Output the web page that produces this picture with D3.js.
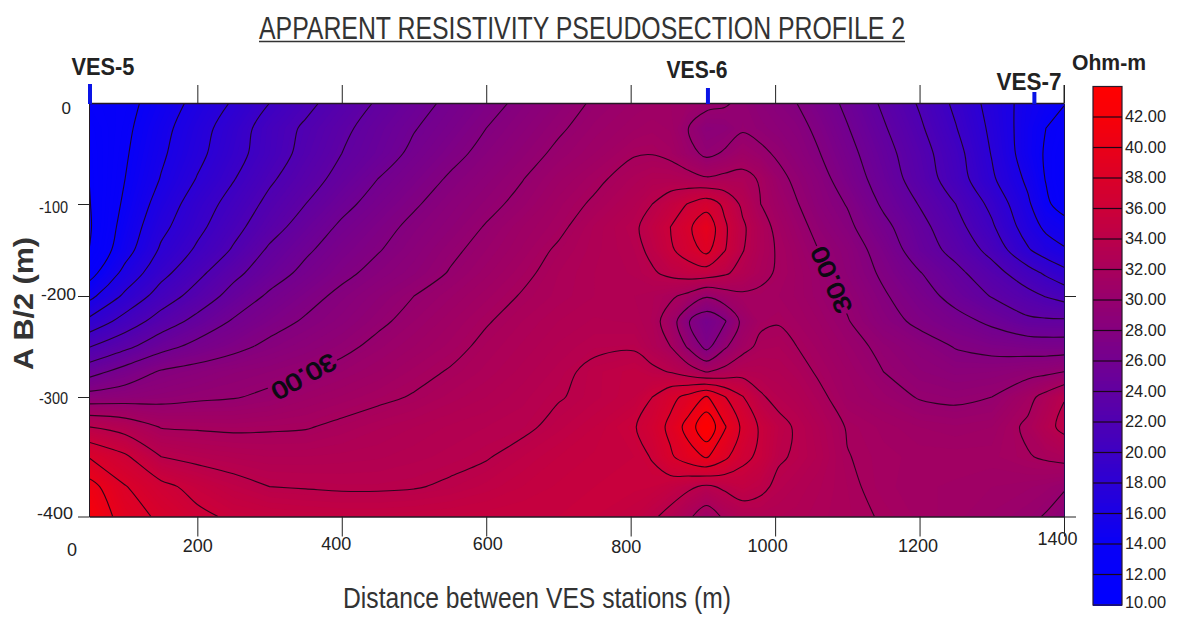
<!DOCTYPE html>
<html>
<head>
<meta charset="utf-8">
<script src="https://cdn.jsdelivr.net/npm/d3@7/dist/d3.min.js"></script>
<style>
html,body{margin:0;padding:0;background:#fff;}
svg{display:block;}
text{font-family:"Liberation Sans",Arial,sans-serif;fill:#222;}
</style>
</head>
<body>
<svg id="chart" width="1181" height="617"></svg>
<script>
// ---- data ----
const titleText = "APPARENT RESISTIVITY PSEUDOSECTION PROFILE 2";
const xTitle = "Distance between VES stations (m)";
const yTitle = "A B/2 (m)";
const unitLabel = "Ohm-m";
const xTicks = [200,400,600,800,1000,1200,1400];
const yTicks = [0,-100,-200,-300,-400];
const legendTicks = [42,40,38,36,34,32,30,28,26,24,22,20,18,16,14,12,10];
const stations = [{name:"VES-5",x:50},{name:"VES-6",x:907},{name:"VES-7",x:1359}];
const distances = [50,100,150,200,250,300,350,400,450,500,550,600,650,700,750,805,830,855,880,905,930,955,980,1005,1030,1060,1100,1150,1200,1250,1300,1350,1375,1400];
const depths = [0,-25,-50,-75,-100,-125,-150,-175,-200,-225,-250,-275,-300,-325,-350,-375,-400];
const d000 = [12.8,13.4,14.9,16.6,18.2,20.0,21.5,22.9,24.2,25.3,26.4,27.4,28.4,29.3,30.2,30.8,31,31,30.8,30.5,30.2,29.6,29,28.5,28,27,25.6,23.7,21.8,19.6,17.3,15.2,14.6,14.1];
const d025 = [12.3,13.6,15.4,17.2,19.0,20.9,22.3,23.6,24.8,25.9,26.9,28,28.9,29.8,30.6,31.2,31.4,31.2,30,28.9,29.1,29.8,29.4,29,28.6,27.6,26.1,24.2,22.3,20.1,17.6,15,14,13.2];
const d050 = [12.1,13.8,15.7,17.5,19.3,21,22.6,24,25.1,26.4,27.5,28.5,29.4,30.3,31,31.9,31.95,31.6,30.6,29.6,30.2,31,30.4,29.7,29,28.1,26.6,24.7,22.8,20.7,17.9,15,13.8,12.8];
const d075 = [12,14,16.1,18.1,19.9,21.7,23.2,24.6,26,27.1,28.2,29.1,29.95,30.9,31.7,32.6,33,33,32.7,32.2,32.5,32.6,31.8,30.5,29.6,28.7,27.1,25.1,23.1,21,18.3,15.6,13.9,12.7];
const d100 = [11.9,14.3,16.8,19,20.7,22.5,24,25.5,26.7,27.8,28.8,29.6,30.4,31.4,32.2,33.2,34,35,36.1,37.1,35.6,33.6,32,31,30.1,29,27.9,25.7,23.9,22,19.5,16.3,14.4,13];
const d125 = [11.8,14.7,17.5,19.5,21.4,23.2,24.9,26.3,27.4,28.4,29.2,30.1,31,31.7,32.8,33.7,34.8,36,37.6,39.6,36.3,34.3,32.7,31.5,30.6,29.5,28.4,26.5,24.6,22.7,20.3,17,15.6,15];
const d150 = [12,15.2,18.3,20.3,22.2,24.3,25.7,27,27.9,28.8,29.7,30.5,31.3,32.2,32.9,33.5,34.4,35.7,37,38.6,36.1,34.1,32.7,31.8,31,30,29,27.2,25,23.4,21.4,18.2,17,16.2];
const d175 = [13.2,16.6,19.4,21.5,23.5,25.1,26.5,27.6,28.5,29.2,30.1,30.9,31.7,32.5,33,33.3,33.8,34.4,34.9,35,34.3,33.3,32.4,31.8,31.2,30.5,29.2,27.7,26.1,24.5,22.8,20.8,19.7,18.6];
const d200 = [15.4,18.4,20.9,22.8,24.7,26.3,27.4,28.4,29.2,30,30.7,31.4,32.1,32.6,33,33,32.8,32.3,31.5,30.2,31.1,31.7,31.7,31.5,31.2,30.6,29.7,28.2,26.9,25.3,23.9,22.6,21.9,21.3];
const d225 = [18.5,20.8,22.9,24.6,26.2,27.3,28.2,28.9,29.7,30.5,31.2,31.9,32.5,33,33.3,33.2,32.7,31.1,28.1,26.6,27.8,30.5,31.7,31.9,31.5,31,30.1,28.7,27.6,26.7,25.6,24.4,24.3,24.3];
const d250 = [21.9,23.5,25.3,26.6,27.5,28.4,29,29.6,30.4,31,31.6,32.3,32.8,33.3,33.7,33.8,33,32,29.7,27.4,29.7,31.4,32.4,32.5,32,31.4,30.6,29.6,28.8,27.9,27.4,27.1,27,27];
const d275 = [25.2,26.8,28.2,28.7,29.2,29.5,29.9,30.5,31,31.6,32.1,32.6,33.1,33.6,34.4,34.9,34.4,33.9,33,31.9,32.6,33.3,33.2,33,32.6,31.8,31,30,29.3,28.9,29,29.4,29.6,30];
const d300 = [28.8,29.1,29.4,29.7,29.9,30.3,30.9,31.3,31.7,32.1,32.6,33,33.4,33.9,34.4,35,36,37.4,38.6,40.2,38.1,36.1,34.2,33.5,33.1,32.4,31.2,30.6,29.9,29.7,30,31.5,32.6,33.9];
const d325 = [34,33.2,31.9,31.8,31.7,31.8,31.9,32.3,32.7,33,33.3,33.5,33.7,34.4,35,35.9,36.8,38.5,40.8,43.8,40.2,37.6,35.7,34.5,33.8,33,31.9,31.4,31,30.8,31,32.3,33.4,34.5];
const d350 = [37.9,36.3,34,33.5,33.2,33,33,33.1,33.2,33.4,33.6,33.9,34.5,35,35.3,35.5,36.1,37.7,39.1,40.2,38.5,36.5,35.6,34.2,33.8,33.2,32.05,31.6,31.4,31.4,31.4,31.9,32.2,32.5];
const d375 = [40.8,38.1,36.5,35.4,34.6,34,33.9,33.8,33.8,33.9,34.2,34.6,35,35.3,35.5,35.6,35.5,35,34.3,33.7,34.3,34.9,34.4,33.6,33.2,32.8,32.25,31.6,31.3,31.2,31,30.8,30.6,30.2];
const d400 = [41.9,39,37.6,36.4,35.7,35.4,35.2,35.1,35.1,35.2,35.3,35.4,35.5,35.5,35.5,35,34.3,33.4,32.3,31,32.3,33,33.1,33,32.9,32.6,32.3,31.9,31.4,31.1,30.7,30.3,29.9,29];
const contourLevels = [12,14,16,18,20,22,24,26,28,30,32,34,36,38,40,42];
const contourLabels = ["30.00","30.00"];

// ---- layout ----
const W = 1181, H = 617;
const L = 89, R = 1064, T = 103, B = 516.5;
const svg = d3.select("#chart");

const x = d3.scaleLinear().domain([50,1400]).range([L,R]);
const y = d3.scaleLinear().domain([0,-100,-200,-300,-400]).range([T,204,296,397,B]);
const color = d3.scaleLinear()
  .domain([10,14,30,36,42,44])
  .range(["#0000ff","#0800f7","#96006e","#cc0038","#f80008","#ff0000"])
  .clamp(true);

// ---- field ----
const rows = [d000,d025,d050,d075,d100,d125,d150,d175,d200,d225,d250,d275,d300,d325,d350,d375,d400];
const nx = distances.length, ny = depths.length;
const grid = rows.flat();
// grid index -> data position (columns and rows are unevenly spaced)
const ix = d3.scaleLinear().domain(d3.range(nx)).range(distances);
const iy = d3.scaleLinear().domain(d3.range(ny)).range(depths);
const px = u => x(ix(Math.max(0,Math.min(nx-1,u-0.5))));
const py = v => y(iy(Math.max(0,Math.min(ny-1,v-0.5))));
const geo = d3.geoPath(d3.geoTransform({point(a,b){this.stream.point(px(a),py(b));}}));
const contours = d3.contours().size([nx,ny]);

const defs = svg.append("defs");
defs.append("clipPath").attr("id","plot").append("rect")
  .attr("x",L).attr("y",T).attr("width",R-L).attr("height",B-T);

// label placement: centre and angle of the two upside-down labels
const labelSpots = [{cx:304,cy:377,a:151},{cx:831,cy:280,a:247}];
const lineMask = defs.append("mask").attr("id","lineMask").attr("maskUnits","userSpaceOnUse")
  .attr("x",0).attr("y",0).attr("width",W).attr("height",H);
lineMask.append("rect").attr("width",W).attr("height",H).attr("fill","#fff");
labelSpots.forEach(s=>{
  lineMask.append("rect").attr("x",-37).attr("y",-12).attr("width",74).attr("height",24).attr("fill","#000")
    .attr("transform",`translate(${s.cx},${s.cy}) rotate(${s.a})`);
});

const field = svg.append("g").attr("clip-path","url(#plot)");
field.append("rect").attr("x",L).attr("y",T).attr("width",R-L).attr("height",B-T).attr("fill",color(11));
field.selectAll("path.band")
  .data(contours.thresholds(d3.range(11,44.6,0.25))(grid))
  .join("path").attr("class","band")
  .attr("d",geo)
  .attr("fill",d=>color(d.value));

// contour lines: drop the parts that only run along the frame, round the rest
const openCurve = d3.line().curve(d3.curveCatmullRom);
const closedCurve = d3.line().curve(d3.curveCatmullRomClosed);
function linePath(c){
  const onEdge = p => p[0]<=0.5||p[0]>=nx-0.5||p[1]<=0.5||p[1]>=ny-0.5;
  const toPx = p => [px(p[0]),py(p[1])];
  let s = "";
  c.coordinates.forEach(poly=>poly.forEach(ringIn=>{
    let pts = ringIn.slice(0,-1);
    const n = pts.length;
    let cut = -1;
    for(let i=0;i<n;i++){
      if(onEdge(pts[i])&&onEdge(pts[(i+1)%n])){cut=(i+1)%n;break;}
    }
    if(cut<0){ s += closedCurve(pts.map(toPx)); return; }
    pts = pts.slice(cut).concat(pts.slice(0,cut));
    pts.push(pts[0]);
    let run = [];
    for(let i=1;i<pts.length;i++){
      const a=pts[i-1],b=pts[i];
      if(onEdge(a)&&onEdge(b)){
        if(run.length>1) s += openCurve(run.map(toPx));
        run = [];
        continue;
      }
      if(!run.length) run.push(a);
      run.push(b);
    }
    if(run.length>1) s += openCurve(run.map(toPx));
  }));
  return s;
}
field.append("g").attr("mask","url(#lineMask)").selectAll("path.line")
  .data(contours.thresholds(contourLevels)(grid))
  .join("path").attr("class","line")
  .attr("d",linePath)
  .attr("fill","none").attr("stroke","#1c0618").attr("stroke-width",1.1).attr("stroke-opacity",0.9);

// contour labels
svg.selectAll("text.clabel").data(labelSpots).join("text").attr("class","clabel")
  .attr("transform",d=>`translate(${d.cx},${d.cy}) rotate(${d.a})`)
  .attr("text-anchor","middle").attr("dy","0.36em")
  .style("font-size","24px").style("fill","#0a0a12")
  .attr("textLength",70).attr("lengthAdjust","spacingAndGlyphs")
  .attr("stroke","#0a0a12").attr("stroke-width",0.9)
  .text((d,i)=>contourLabels[i]);

// ---- axes ----
const axisColor = "#222";
function styleAxis(g){
  g.selectAll("line,path").attr("stroke",axisColor);
  g.select(".domain").attr("stroke","#241a24");
}
const axisB = svg.append("g").attr("transform",`translate(0,${B})`)
  .call(d3.axisBottom(x).tickValues(xTicks).tickSize(20).tickSizeOuter(0).tickFormat(d=>String(d)))
  .call(styleAxis);
axisB.select(".domain").attr("stroke-width",1.6);
const xNudge = {200:0,400:-6,600:1,800:-5,1000:-8,1200:-2,1400:-7};
const xLift = {200:0,400:-2,600:-2,800:1,1000:0,1200:0,1400:-7};
axisB.selectAll("text").style("font-size","18px").style("font-family","Liberation Sans").attr("fill","#222")
  .attr("transform",d=>`translate(${xNudge[d]},${xLift[d]})`)
  .attr("y",23).attr("dy","0.71em");
svg.append("text").attr("x",72).attr("y",556).attr("text-anchor","middle").style("font-size","18px").text("0");

const axisT = svg.append("g").attr("transform",`translate(0,${T})`)
  .call(d3.axisTop(x).tickValues(xTicks).tickSize(18).tickSizeOuter(0).tickFormat(""))
  .call(styleAxis);
axisT.select(".domain").attr("stroke-width",1.6);

const axisL = svg.append("g").attr("transform",`translate(${L},0)`)
  .call(d3.axisLeft(y).tickValues(yTicks).tickSize(11).tickSizeOuter(0).tickFormat(d=>String(d)))
  .call(styleAxis);
axisL.selectAll(".tick").filter(d=>d===0).select("line").remove();
const yLift = {0:5,"-100":3,"-200":-2,"-300":1,"-400":-3};
const yShift = {0:-18,"-100":-21,"-200":-13,"-300":-21,"-400":-16};
const yWidth = {"-100":29,"-200":35,"-300":29,"-400":36};
axisL.selectAll("text").style("font-size","17px").style("font-family","Liberation Sans").attr("fill","#222")
  .attr("x",d=>yShift[d]).attr("dy",d=>`${0.32+yLift[d]/17}em`)
  .each(function(d){ if(yWidth[d]) d3.select(this).attr("textLength",yWidth[d]).attr("lengthAdjust","spacingAndGlyphs"); });

const axisR = svg.append("g").attr("transform",`translate(${R},0)`)
  .call(d3.axisRight(y).tickValues([-200,-400]).tickSize(12).tickSizeOuter(0).tickFormat(""))
  .call(styleAxis);
axisR.select(".domain").attr("stroke","#1b1450");
svg.append("line").attr("x1",R).attr("x2",R).attr("y1",85).attr("y2",T).attr("stroke",axisColor);

// station markers
svg.selectAll("line.station").data(stations).join("line").attr("class","station")
  .attr("x1",d=>x(d.x)+(d.x===50?1:0)).attr("x2",d=>x(d.x)+(d.x===50?1:0))
  .attr("y1",(d,i)=>[84,88,92][i]).attr("y2",T+1)
  .attr("stroke","#0a14e6").attr("stroke-width",4);
const stationLabel = [{lx:103,ly:75},{lx:697,ly:78},{lx:1029,ly:90}];
svg.selectAll("text.st").data(stations).join("text").attr("class","st")
  .attr("x",(d,i)=>stationLabel[i].lx).attr("y",(d,i)=>stationLabel[i].ly)
  .attr("text-anchor","middle").style("font-size","23px").style("font-weight","700")
  .attr("textLength",(d,i)=>[63,61,65][i]).attr("lengthAdjust","spacingAndGlyphs")
  .text(d=>d.name);

// titles
svg.append("text").attr("x",259).attr("y",39).style("font-size","31px")
  .attr("textLength",646).attr("lengthAdjust","spacingAndGlyphs").style("fill","#333").text(titleText);
svg.append("line").attr("x1",259).attr("x2",905).attr("y1",41.5).attr("y2",41.5).attr("stroke","#333").attr("stroke-width",1.4);
svg.append("text").attr("x",343).attr("y",608).style("font-size","30px")
  .attr("textLength",388).attr("lengthAdjust","spacingAndGlyphs").style("fill","#333").text(xTitle);
svg.append("text").attr("transform","translate(33,370) rotate(-90)").style("font-size","27px").style("font-weight","700")
  .attr("textLength",133).attr("lengthAdjust","spacingAndGlyphs").style("fill","#333").text(yTitle);

// ---- colour bar ----
const ly = d3.scaleLinear().domain([10,44]).range([605,86.5]);
const cb = svg.append("g");
cb.selectAll("rect").data(d3.range(10,44,0.25)).join("rect")
  .attr("x",1093).attr("width",29)
  .attr("y",d=>ly(d+0.25)).attr("height",d=>ly(d)-ly(d+0.25)+0.5)
  .attr("fill",d=>color(d+0.125)).attr("shape-rendering","crispEdges");
cb.append("rect").attr("x",1093).attr("y",ly(44)).attr("width",29).attr("height",ly(10)-ly(44))
  .attr("fill","none").attr("stroke","#2a1a2a").attr("stroke-width",1.2);
cb.selectAll("line").data(legendTicks.filter(d=>d>10)).join("line")
  .attr("x1",1093).attr("x2",1122).attr("y1",d=>ly(d)).attr("y2",d=>ly(d))
  .attr("stroke","#1c0618").attr("stroke-width",1.2);
cb.selectAll("text").data(legendTicks).join("text")
  .attr("x",1125).attr("y",d=>ly(d)+(d===10?3:5)).style("font-size","16.5px")
  .attr("textLength",41).attr("lengthAdjust","spacingAndGlyphs")
  .text(d=>d.toFixed(2));
svg.append("text").attr("x",1072).attr("y",70).style("font-size","22px").style("font-weight","700")
  .attr("textLength",74).attr("lengthAdjust","spacingAndGlyphs").text(unitLabel);
</script>
</body>
</html>
